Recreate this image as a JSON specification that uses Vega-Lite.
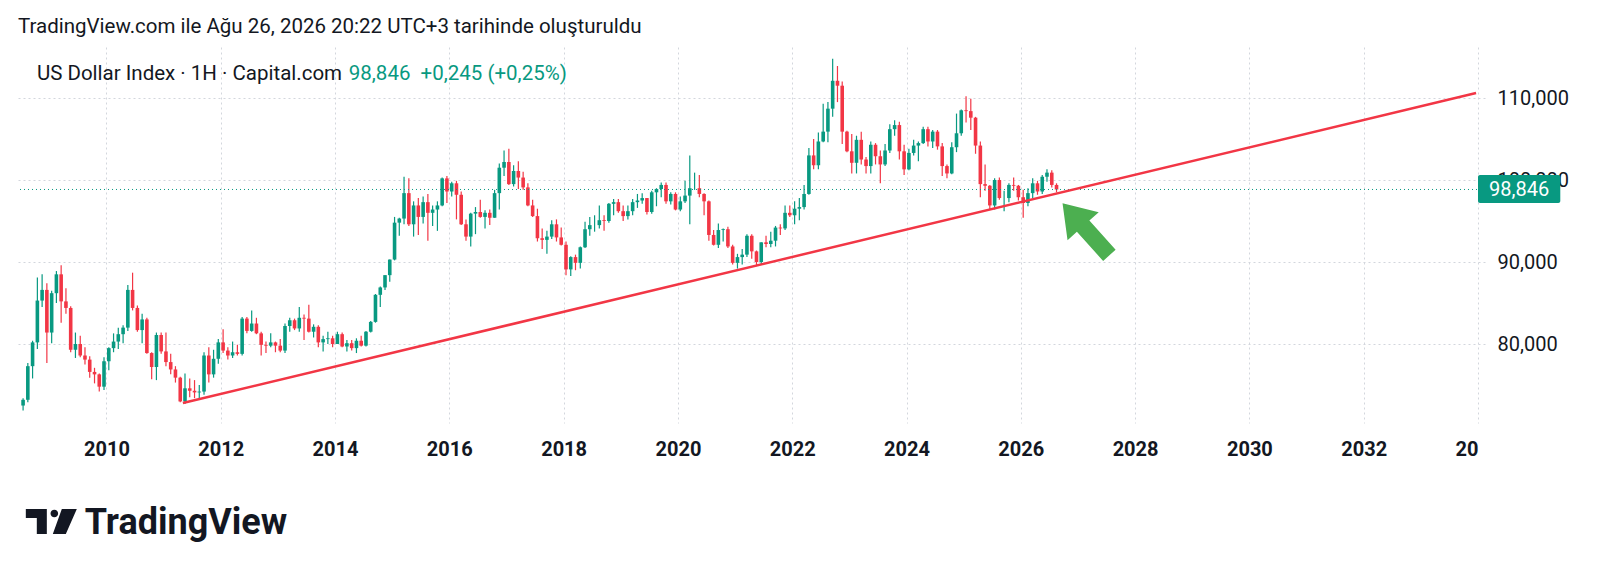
{
  "$schema": "https://vega.github.io/schema/vega-lite/v6.json",
  "width": 1468,
  "height": 376,
  "autosize": "none",
  "padding": {"left": 17, "top": 47, "right": 115, "bottom": 150},
  "background": "white",
  "config": {"view": {"stroke": null}, "font": "Roboto"},
  "title": {
    "text": "TradingView.com ile Ağu 26, 2026 20:22 UTC+3 tarihinde oluşturuldu",
    "anchor": "start",
    "frame": "group",
    "baseline": "alphabetic",
    "offset": 14,
    "dx": 1,
    "dy": 20,
    "font": "Roboto",
    "fontSize": 20.5,
    "fontWeight": "normal",
    "color": "#131722"
  },
  "datasets": {
    "candles": [
      {"t":2008.542,"o":72.5,"h":73.4,"l":71.9,"c":73.2},
      {"t":2008.625,"o":73.2,"h":77.7,"l":72.9,"c":77.3},
      {"t":2008.708,"o":77.3,"h":80.4,"l":75.8,"c":80.2},
      {"t":2008.792,"o":80.2,"h":88.1,"l":79.4,"c":85.3},
      {"t":2008.875,"o":85.3,"h":88.5,"l":84.5,"c":86.6},
      {"t":2008.958,"o":86.6,"h":87.4,"l":77.7,"c":81.4},
      {"t":2009.042,"o":81.4,"h":86.5,"l":80.1,"c":86.2},
      {"t":2009.125,"o":86.2,"h":88.9,"l":85.0,"c":88.5},
      {"t":2009.208,"o":88.5,"h":89.6,"l":82.6,"c":85.2},
      {"t":2009.292,"o":85.2,"h":86.8,"l":83.7,"c":84.4},
      {"t":2009.375,"o":84.4,"h":84.6,"l":79.0,"c":79.3},
      {"t":2009.458,"o":79.3,"h":81.4,"l":78.3,"c":80.0},
      {"t":2009.542,"o":80.0,"h":81.0,"l":78.4,"c":78.6},
      {"t":2009.625,"o":78.6,"h":79.6,"l":77.5,"c":78.1},
      {"t":2009.708,"o":78.1,"h":78.5,"l":75.9,"c":76.6},
      {"t":2009.792,"o":76.6,"h":77.1,"l":75.2,"c":76.3},
      {"t":2009.875,"o":76.3,"h":76.4,"l":74.2,"c":74.8},
      {"t":2009.958,"o":74.8,"h":78.4,"l":74.4,"c":77.9},
      {"t":2010.042,"o":77.9,"h":79.6,"l":76.8,"c":79.5},
      {"t":2010.125,"o":79.5,"h":81.3,"l":79.0,"c":80.3},
      {"t":2010.208,"o":80.3,"h":82.0,"l":79.4,"c":81.2},
      {"t":2010.292,"o":81.2,"h":82.3,"l":80.1,"c":82.0},
      {"t":2010.375,"o":82.0,"h":87.2,"l":81.6,"c":86.6},
      {"t":2010.458,"o":86.6,"h":88.7,"l":84.1,"c":84.4},
      {"t":2010.542,"o":84.4,"h":84.7,"l":81.5,"c":81.7},
      {"t":2010.625,"o":81.7,"h":83.7,"l":80.1,"c":83.0},
      {"t":2010.708,"o":83.0,"h":83.2,"l":78.8,"c":78.9},
      {"t":2010.792,"o":78.9,"h":79.0,"l":75.7,"c":77.2},
      {"t":2010.875,"o":77.2,"h":81.4,"l":75.6,"c":81.1},
      {"t":2010.958,"o":81.1,"h":81.4,"l":78.8,"c":79.1},
      {"t":2011.042,"o":79.1,"h":81.4,"l":77.3,"c":77.8},
      {"t":2011.125,"o":77.8,"h":78.8,"l":76.3,"c":76.9},
      {"t":2011.208,"o":76.9,"h":77.3,"l":75.3,"c":75.9},
      {"t":2011.292,"o":75.9,"h":76.0,"l":72.9,"c":73.0},
      {"t":2011.375,"o":73.0,"h":76.4,"l":72.7,"c":74.6},
      {"t":2011.458,"o":74.6,"h":75.8,"l":73.5,"c":74.3},
      {"t":2011.542,"o":74.3,"h":75.6,"l":73.4,"c":74.1},
      {"t":2011.625,"o":74.1,"h":75.0,"l":73.4,"c":74.2},
      {"t":2011.708,"o":74.2,"h":79.0,"l":73.8,"c":78.6},
      {"t":2011.792,"o":78.6,"h":79.6,"l":75.3,"c":76.3},
      {"t":2011.875,"o":76.3,"h":79.3,"l":75.9,"c":78.2},
      {"t":2011.958,"o":78.2,"h":80.6,"l":77.6,"c":80.2},
      {"t":2012.042,"o":80.2,"h":81.8,"l":78.9,"c":79.2},
      {"t":2012.125,"o":79.2,"h":79.6,"l":78.1,"c":78.6},
      {"t":2012.208,"o":78.6,"h":80.3,"l":78.3,"c":79.0},
      {"t":2012.292,"o":79.0,"h":79.9,"l":78.6,"c":78.8},
      {"t":2012.375,"o":78.8,"h":83.3,"l":78.6,"c":83.1},
      {"t":2012.458,"o":83.1,"h":83.3,"l":81.3,"c":81.6},
      {"t":2012.542,"o":81.6,"h":84.1,"l":81.5,"c":82.5},
      {"t":2012.625,"o":82.5,"h":83.2,"l":81.2,"c":81.3},
      {"t":2012.708,"o":81.3,"h":81.5,"l":78.6,"c":79.9},
      {"t":2012.792,"o":79.9,"h":80.3,"l":78.9,"c":79.8},
      {"t":2012.875,"o":79.8,"h":81.3,"l":79.6,"c":80.2},
      {"t":2012.958,"o":80.2,"h":80.3,"l":79.0,"c":79.8},
      {"t":2013.042,"o":79.8,"h":80.6,"l":79.0,"c":79.2},
      {"t":2013.125,"o":79.2,"h":82.5,"l":78.9,"c":82.2},
      {"t":2013.208,"o":82.2,"h":83.2,"l":81.5,"c":82.9},
      {"t":2013.292,"o":82.9,"h":83.1,"l":81.7,"c":81.9},
      {"t":2013.375,"o":81.9,"h":84.5,"l":81.5,"c":83.2},
      {"t":2013.458,"o":83.2,"h":83.6,"l":80.5,"c":83.1},
      {"t":2013.542,"o":83.1,"h":84.8,"l":81.4,"c":81.5},
      {"t":2013.625,"o":81.5,"h":82.4,"l":80.8,"c":82.1},
      {"t":2013.708,"o":82.1,"h":82.3,"l":79.6,"c":80.2},
      {"t":2013.792,"o":80.2,"h":81.0,"l":79.1,"c":80.6},
      {"t":2013.875,"o":80.6,"h":81.5,"l":80.0,"c":80.7},
      {"t":2013.958,"o":80.7,"h":81.0,"l":79.6,"c":80.0},
      {"t":2014.042,"o":80.0,"h":81.5,"l":80.0,"c":81.2},
      {"t":2014.125,"o":81.2,"h":81.4,"l":79.6,"c":79.7},
      {"t":2014.208,"o":79.7,"h":80.5,"l":79.1,"c":80.1},
      {"t":2014.292,"o":80.1,"h":80.5,"l":79.2,"c":79.5},
      {"t":2014.375,"o":79.5,"h":80.7,"l":78.9,"c":80.4},
      {"t":2014.458,"o":80.4,"h":81.0,"l":79.7,"c":79.8},
      {"t":2014.542,"o":79.8,"h":81.6,"l":79.7,"c":81.5},
      {"t":2014.625,"o":81.5,"h":82.8,"l":81.4,"c":82.7},
      {"t":2014.708,"o":82.7,"h":86.1,"l":82.6,"c":86.0},
      {"t":2014.792,"o":86.0,"h":87.0,"l":84.5,"c":86.9},
      {"t":2014.875,"o":86.9,"h":88.4,"l":86.6,"c":88.4},
      {"t":2014.958,"o":88.4,"h":90.3,"l":87.6,"c":90.3},
      {"t":2015.042,"o":90.3,"h":95.5,"l":90.2,"c":94.8},
      {"t":2015.125,"o":94.8,"h":95.4,"l":93.2,"c":95.3},
      {"t":2015.208,"o":95.3,"h":100.4,"l":94.6,"c":98.4},
      {"t":2015.292,"o":98.4,"h":100.2,"l":94.4,"c":94.6},
      {"t":2015.375,"o":94.6,"h":97.4,"l":93.1,"c":96.9},
      {"t":2015.458,"o":96.9,"h":97.8,"l":93.3,"c":95.5},
      {"t":2015.542,"o":95.5,"h":98.0,"l":94.7,"c":97.3},
      {"t":2015.625,"o":97.3,"h":98.3,"l":92.6,"c":96.0},
      {"t":2015.708,"o":96.0,"h":96.9,"l":94.4,"c":96.4},
      {"t":2015.792,"o":96.4,"h":97.4,"l":93.8,"c":96.9},
      {"t":2015.875,"o":96.9,"h":100.3,"l":96.8,"c":100.2},
      {"t":2015.958,"o":100.2,"h":100.5,"l":97.2,"c":98.6},
      {"t":2016.042,"o":98.6,"h":99.8,"l":98.0,"c":99.6},
      {"t":2016.125,"o":99.6,"h":99.9,"l":95.2,"c":98.2},
      {"t":2016.208,"o":98.2,"h":98.6,"l":94.5,"c":94.6},
      {"t":2016.292,"o":94.6,"h":95.2,"l":92.6,"c":93.1},
      {"t":2016.375,"o":93.1,"h":96.0,"l":91.9,"c":95.9},
      {"t":2016.458,"o":95.9,"h":96.7,"l":93.4,"c":96.1},
      {"t":2016.542,"o":96.1,"h":97.6,"l":95.4,"c":95.5},
      {"t":2016.625,"o":95.5,"h":96.3,"l":94.1,"c":96.0},
      {"t":2016.708,"o":96.0,"h":96.4,"l":94.5,"c":95.4},
      {"t":2016.792,"o":95.4,"h":98.8,"l":95.4,"c":98.4},
      {"t":2016.875,"o":98.4,"h":102.0,"l":96.4,"c":101.5},
      {"t":2016.958,"o":101.5,"h":103.6,"l":100.5,"c":102.2},
      {"t":2017.042,"o":102.2,"h":103.8,"l":99.4,"c":99.5},
      {"t":2017.125,"o":99.5,"h":101.8,"l":99.2,"c":101.1},
      {"t":2017.208,"o":101.1,"h":102.3,"l":98.9,"c":100.3},
      {"t":2017.292,"o":100.3,"h":101.0,"l":98.8,"c":99.1},
      {"t":2017.375,"o":99.1,"h":99.6,"l":96.8,"c":96.9},
      {"t":2017.458,"o":96.9,"h":97.6,"l":95.5,"c":95.6},
      {"t":2017.542,"o":95.6,"h":96.5,"l":92.5,"c":92.9},
      {"t":2017.625,"o":92.9,"h":94.1,"l":91.6,"c":92.7},
      {"t":2017.708,"o":92.7,"h":93.8,"l":91.0,"c":93.1},
      {"t":2017.792,"o":93.1,"h":95.1,"l":92.8,"c":94.6},
      {"t":2017.875,"o":94.6,"h":95.2,"l":92.5,"c":93.0},
      {"t":2017.958,"o":93.0,"h":94.2,"l":92.0,"c":92.1},
      {"t":2018.042,"o":92.1,"h":92.5,"l":88.4,"c":89.1},
      {"t":2018.125,"o":89.1,"h":90.7,"l":88.3,"c":90.6},
      {"t":2018.208,"o":90.6,"h":90.9,"l":89.0,"c":89.9},
      {"t":2018.292,"o":89.9,"h":91.9,"l":89.2,"c":91.8},
      {"t":2018.375,"o":91.8,"h":94.9,"l":91.7,"c":94.0},
      {"t":2018.458,"o":94.0,"h":95.5,"l":93.2,"c":94.5},
      {"t":2018.542,"o":94.5,"h":95.7,"l":93.7,"c":94.5},
      {"t":2018.625,"o":94.5,"h":96.9,"l":94.1,"c":95.1},
      {"t":2018.708,"o":95.1,"h":95.7,"l":93.8,"c":95.0},
      {"t":2018.792,"o":95.0,"h":97.2,"l":94.8,"c":97.1},
      {"t":2018.875,"o":97.1,"h":97.7,"l":95.7,"c":97.3},
      {"t":2018.958,"o":97.3,"h":97.7,"l":96.0,"c":96.2},
      {"t":2019.042,"o":96.2,"h":96.9,"l":95.0,"c":95.6},
      {"t":2019.125,"o":95.6,"h":96.9,"l":95.2,"c":96.2},
      {"t":2019.208,"o":96.2,"h":97.7,"l":95.7,"c":97.3},
      {"t":2019.292,"o":97.3,"h":98.3,"l":96.6,"c":97.5},
      {"t":2019.375,"o":97.5,"h":98.4,"l":97.1,"c":97.8},
      {"t":2019.458,"o":97.8,"h":97.8,"l":95.8,"c":96.1},
      {"t":2019.542,"o":96.1,"h":98.7,"l":95.9,"c":98.5},
      {"t":2019.625,"o":98.5,"h":99.0,"l":96.8,"c":98.9},
      {"t":2019.708,"o":98.9,"h":99.7,"l":97.9,"c":99.4},
      {"t":2019.792,"o":99.4,"h":99.7,"l":97.1,"c":97.4},
      {"t":2019.875,"o":97.4,"h":98.5,"l":97.0,"c":98.3},
      {"t":2019.958,"o":98.3,"h":98.5,"l":96.3,"c":96.4},
      {"t":2020.042,"o":96.4,"h":98.0,"l":96.2,"c":97.4},
      {"t":2020.125,"o":97.4,"h":99.9,"l":97.2,"c":98.1},
      {"t":2020.208,"o":98.1,"h":103.0,"l":94.6,"c":99.0},
      {"t":2020.292,"o":99.0,"h":100.9,"l":98.8,"c":99.0},
      {"t":2020.375,"o":99.0,"h":100.6,"l":97.9,"c":98.3},
      {"t":2020.458,"o":98.3,"h":98.4,"l":95.7,"c":97.4},
      {"t":2020.542,"o":97.4,"h":97.5,"l":92.6,"c":93.3},
      {"t":2020.625,"o":93.3,"h":93.9,"l":92.0,"c":92.1},
      {"t":2020.708,"o":92.1,"h":94.7,"l":91.7,"c":93.9},
      {"t":2020.792,"o":93.9,"h":94.1,"l":92.5,"c":94.0},
      {"t":2020.875,"o":94.0,"h":94.3,"l":91.7,"c":91.9},
      {"t":2020.958,"o":91.9,"h":92.1,"l":89.7,"c":89.9},
      {"t":2021.042,"o":89.9,"h":91.0,"l":89.2,"c":90.6},
      {"t":2021.125,"o":90.6,"h":91.6,"l":89.7,"c":90.9},
      {"t":2021.208,"o":90.9,"h":93.4,"l":90.6,"c":93.2},
      {"t":2021.292,"o":93.2,"h":93.4,"l":90.4,"c":91.3},
      {"t":2021.375,"o":91.3,"h":91.4,"l":89.5,"c":90.0},
      {"t":2021.458,"o":90.0,"h":92.4,"l":89.7,"c":92.4},
      {"t":2021.542,"o":92.4,"h":93.2,"l":91.8,"c":92.2},
      {"t":2021.625,"o":92.2,"h":93.7,"l":91.8,"c":92.6},
      {"t":2021.708,"o":92.6,"h":94.4,"l":91.9,"c":94.2},
      {"t":2021.792,"o":94.2,"h":94.6,"l":93.3,"c":94.1},
      {"t":2021.875,"o":94.1,"h":96.9,"l":93.9,"c":96.0},
      {"t":2021.958,"o":96.0,"h":96.9,"l":95.5,"c":95.7},
      {"t":2022.042,"o":95.7,"h":97.4,"l":94.6,"c":96.5},
      {"t":2022.125,"o":96.5,"h":97.8,"l":95.1,"c":96.7},
      {"t":2022.208,"o":96.7,"h":99.4,"l":96.4,"c":98.3},
      {"t":2022.292,"o":98.3,"h":103.9,"l":98.2,"c":103.0},
      {"t":2022.375,"o":103.0,"h":105.0,"l":101.3,"c":101.8},
      {"t":2022.458,"o":101.8,"h":105.8,"l":101.3,"c":104.7},
      {"t":2022.542,"o":104.7,"h":109.3,"l":104.6,"c":105.9},
      {"t":2022.625,"o":105.9,"h":109.5,"l":104.6,"c":108.7},
      {"t":2022.708,"o":108.7,"h":114.8,"l":107.7,"c":112.1},
      {"t":2022.792,"o":112.1,"h":113.9,"l":109.5,"c":111.5},
      {"t":2022.875,"o":111.5,"h":112.0,"l":104.4,"c":105.9},
      {"t":2022.958,"o":105.9,"h":106.0,"l":103.4,"c":103.5},
      {"t":2023.042,"o":103.5,"h":105.6,"l":100.8,"c":102.1},
      {"t":2023.125,"o":102.1,"h":105.4,"l":100.8,"c":104.9},
      {"t":2023.208,"o":104.9,"h":105.9,"l":101.9,"c":102.5},
      {"t":2023.292,"o":102.5,"h":102.8,"l":100.8,"c":101.7},
      {"t":2023.375,"o":101.7,"h":104.7,"l":100.8,"c":104.3},
      {"t":2023.458,"o":104.3,"h":104.5,"l":101.9,"c":102.9},
      {"t":2023.542,"o":102.9,"h":103.6,"l":99.6,"c":101.9},
      {"t":2023.625,"o":101.9,"h":104.4,"l":101.7,"c":103.6},
      {"t":2023.708,"o":103.6,"h":106.8,"l":103.3,"c":106.2},
      {"t":2023.792,"o":106.2,"h":107.3,"l":105.4,"c":106.7},
      {"t":2023.875,"o":106.7,"h":107.1,"l":102.5,"c":103.5},
      {"t":2023.958,"o":103.5,"h":104.3,"l":100.6,"c":101.3},
      {"t":2024.042,"o":101.3,"h":103.8,"l":101.2,"c":103.3},
      {"t":2024.125,"o":103.3,"h":104.9,"l":103.0,"c":104.2},
      {"t":2024.208,"o":104.2,"h":104.7,"l":102.3,"c":104.5},
      {"t":2024.292,"o":104.5,"h":106.5,"l":104.4,"c":106.2},
      {"t":2024.375,"o":106.2,"h":106.5,"l":104.1,"c":104.7},
      {"t":2024.458,"o":104.7,"h":106.1,"l":103.9,"c":105.9},
      {"t":2024.542,"o":105.9,"h":106.1,"l":103.7,"c":104.1},
      {"t":2024.625,"o":104.1,"h":104.5,"l":100.5,"c":101.7},
      {"t":2024.708,"o":101.7,"h":101.9,"l":100.2,"c":100.8},
      {"t":2024.792,"o":100.8,"h":104.6,"l":100.7,"c":104.0},
      {"t":2024.875,"o":104.0,"h":108.1,"l":103.4,"c":105.7},
      {"t":2024.958,"o":105.7,"h":108.6,"l":105.4,"c":108.5},
      {"t":2025.042,"o":108.5,"h":110.2,"l":107.0,"c":108.4},
      {"t":2025.125,"o":108.4,"h":109.9,"l":106.1,"c":107.6},
      {"t":2025.208,"o":107.6,"h":107.7,"l":103.2,"c":104.2},
      {"t":2025.292,"o":104.2,"h":104.7,"l":97.9,"c":99.5},
      {"t":2025.375,"o":99.5,"h":101.9,"l":98.7,"c":99.3},
      {"t":2025.458,"o":99.3,"h":99.4,"l":96.4,"c":96.9},
      {"t":2025.542,"o":96.9,"h":100.2,"l":96.4,"c":100.0},
      {"t":2025.625,"o":100.0,"h":100.3,"l":97.6,"c":97.8},
      {"t":2025.708,"o":97.8,"h":98.7,"l":96.2,"c":97.8},
      {"t":2025.792,"o":97.8,"h":99.6,"l":97.3,"c":99.4},
      {"t":2025.875,"o":99.4,"h":100.3,"l":98.7,"c":99.3},
      {"t":2025.958,"o":99.3,"h":99.4,"l":97.5,"c":97.9},
      {"t":2026.042,"o":97.9,"h":98.8,"l":95.4,"c":97.2},
      {"t":2026.125,"o":97.2,"h":99.0,"l":96.8,"c":98.4},
      {"t":2026.208,"o":98.4,"h":100.2,"l":97.8,"c":99.6},
      {"t":2026.292,"o":99.6,"h":99.9,"l":98.2,"c":98.6},
      {"t":2026.375,"o":98.6,"h":100.6,"l":98.3,"c":100.4},
      {"t":2026.458,"o":100.4,"h":101.3,"l":99.8,"c":100.9},
      {"t":2026.542,"o":100.9,"h":101.2,"l":99.1,"c":99.4},
      {"t":2026.625,"o":99.4,"h":99.6,"l":98.5,"c":98.846}
    ],
    "trend": [
      {"t": 2011.338, "v": 72.8},
      {"t": 2033.966, "v": 110.61}
    ]
  },
  "layer": [
    {
      "data": {"name": "candles"},
      "mark": {"type": "rule", "strokeWidth": 1.2},
      "encoding": {
        "x": {
          "field": "t", "type": "quantitative", "title": null,
          "scale": {"domain": [2008.523, 2034.035], "nice": false, "zero": false},
          "axis": {
            "title": null, "orient": "bottom", "zindex": 0,
            "values": [2010, 2012, 2014, 2016, 2018, 2020, 2022, 2024, 2026, 2028, 2030, 2032, 2034],
            "labelExpr": "datum.value == 2034 ? '20' : format(datum.value, 'd')",
            "labelAlign": {"condition": {"test": "datum.value == 2034", "value": "right"}, "value": "center"},
            "labelFont": "Roboto", "labelFontSize": 20, "labelFontWeight": "bold", "labelColor": "#131722",
            "labelPadding": 16, "labelBound": false, "labelOverlap": false, "labelFlush": false,
            "domain": false, "ticks": false,
            "grid": true, "gridColor": "#d3d6dd", "gridDash": [2, 3], "gridWidth": 1
          }
        },
        "y": {
          "field": "l", "type": "quantitative", "title": null,
          "scale": {"domain": [70.37, 116.22], "nice": false, "zero": false},
          "axis": {
            "title": null, "orient": "right", "zindex": 0,
            "values": [80, 90, 100, 110],
            "labelExpr": "replace(format(datum.value, '.3f'), '.', ',')",
            "labelFont": "Roboto", "labelFontSize": 20, "labelColor": "#131722",
            "labelPadding": 12, "labelBaseline": "middle",
            "domain": false, "ticks": false,
            "grid": true, "gridColor": "#d3d6dd", "gridDash": [2, 3], "gridWidth": 1
          }
        },
        "y2": {"field": "h"},
        "color": {"condition": {"test": "datum.c >= datum.o", "value": "#089981"}, "value": "#f23645"}
      }
    },
    {
      "data": {"name": "candles"},
      "mark": {"type": "bar", "size": 3.6},
      "encoding": {
        "x": {"field": "t", "type": "quantitative", "title": null, "scale": {"domain": [2008.523, 2034.035], "nice": false, "zero": false}},
        "y": {"field": "o", "type": "quantitative", "title": null, "scale": {"domain": [70.37, 116.22], "nice": false, "zero": false}},
        "y2": {"field": "c"},
        "color": {"condition": {"test": "datum.c >= datum.o", "value": "#089981"}, "value": "#f23645"}
      }
    },
    {
      "data": {"values": [{"v": 98.846}]},
      "mark": {"type": "rule", "stroke": "#089981", "strokeWidth": 1, "strokeDash": [1, 3]},
      "encoding": {
        "y": {"field": "v", "type": "quantitative", "title": null, "scale": {"domain": [70.37, 116.22], "nice": false, "zero": false}}
      }
    },
    {
      "data": {"name": "trend"},
      "mark": {"type": "line", "color": "#f23645", "strokeWidth": 2.5},
      "encoding": {
        "x": {"field": "t", "type": "quantitative", "title": null, "scale": {"domain": [2008.523, 2034.035], "nice": false, "zero": false}},
        "y": {"field": "v", "type": "quantitative", "title": null, "scale": {"domain": [70.37, 116.22], "nice": false, "zero": false}}
      }
    },
    {
      "data": {"values": [{"t": 2027.14, "v": 93.99}]},
      "mark": {
        "type": "point", "filled": true, "opacity": 1, "color": "#4caf50", "size": 4900, "angle": 318,
        "shape": "M0,-1L0.6,-0.12L0.24,-0.12L0.24,1L-0.24,1L-0.24,-0.12L-0.6,-0.12Z"
      },
      "encoding": {
        "x": {"field": "t", "type": "quantitative", "title": null, "scale": {"domain": [2008.523, 2034.035], "nice": false, "zero": false}},
        "y": {"field": "v", "type": "quantitative", "title": null, "scale": {"domain": [70.37, 116.22], "nice": false, "zero": false}}
      }
    },
    {
      "data": {"values": [{"t": 2008.784, "v": 112.2, "label": "US Dollar Index · 1H · Capital.com"}]},
      "mark": {"type": "text", "align": "left", "baseline": "alphabetic", "font": "Roboto", "fontSize": 20.5, "color": "#131722"},
      "encoding": {
        "x": {"field": "t", "type": "quantitative", "title": null, "scale": {"domain": [2008.523, 2034.035], "nice": false, "zero": false}},
        "y": {"field": "v", "type": "quantitative", "title": null, "scale": {"domain": [70.37, 116.22], "nice": false, "zero": false}},
        "text": {"field": "label"}
      }
    },
    {
      "data": {"values": [{"t": 2014.241, "v": 112.2, "label": "98,846\u00a0 +0,245 (+0,25%)"}]},
      "mark": {"type": "text", "align": "left", "baseline": "alphabetic", "font": "Roboto", "fontSize": 20.5, "color": "#089981"},
      "encoding": {
        "x": {"field": "t", "type": "quantitative", "title": null, "scale": {"domain": [2008.523, 2034.035], "nice": false, "zero": false}},
        "y": {"field": "v", "type": "quantitative", "title": null, "scale": {"domain": [70.37, 116.22], "nice": false, "zero": false}},
        "text": {"field": "label"}
      }
    },
    {
      "data": {"values": [{"t1": 2034.0, "t2": 2035.44, "v1": 97.2, "v2": 100.61}]},
      "mark": {"type": "rect", "color": "#089981", "cornerRadius": 2},
      "encoding": {
        "x": {"field": "t1", "type": "quantitative", "title": null, "scale": {"domain": [2008.523, 2034.035], "nice": false, "zero": false}},
        "x2": {"field": "t2"},
        "y": {"field": "v1", "type": "quantitative", "title": null, "scale": {"domain": [70.37, 116.22], "nice": false, "zero": false}},
        "y2": {"field": "v2"}
      }
    },
    {
      "data": {"values": [{"t": 2034.72, "v": 98.05, "label": "98,846"}]},
      "mark": {"type": "text", "align": "center", "baseline": "alphabetic", "font": "Roboto", "fontSize": 20, "color": "white"},
      "encoding": {
        "x": {"field": "t", "type": "quantitative", "title": null, "scale": {"domain": [2008.523, 2034.035], "nice": false, "zero": false}},
        "y": {"field": "v", "type": "quantitative", "title": null, "scale": {"domain": [70.37, 116.22], "nice": false, "zero": false}},
        "text": {"field": "label"}
      }
    },
    {
      "data": {"values": [{"t": 2009.036, "v": 58.35}]},
      "mark": {
        "type": "point", "filled": true, "opacity": 1, "color": "#131722", "size": 2601,
        "shape": "M-1,-0.49L-0.176,-0.49L-0.176,0.49L-0.569,0.49L-0.569,-0.137L-1,-0.137Z M-0.031,-0.314A0.149,0.149 0 1 0 0.267,-0.314A0.149,0.149 0 1 0 -0.031,-0.314Z M0.412,-0.49L1,-0.49L0.569,0.49L0.059,0.49Z"
      },
      "encoding": {
        "x": {"field": "t", "type": "quantitative", "title": null, "scale": {"domain": [2008.523, 2034.035], "nice": false, "zero": false}},
        "y": {"field": "v", "type": "quantitative", "title": null, "scale": {"domain": [70.37, 116.22], "nice": false, "zero": false}}
      }
    },
    {
      "data": {"values": [{"t": 2009.62, "v": 56.83, "label": "TradingView"}]},
      "mark": {"type": "text", "align": "left", "baseline": "alphabetic", "font": "Roboto", "fontSize": 36, "fontWeight": "bold", "color": "#131722"},
      "encoding": {
        "x": {"field": "t", "type": "quantitative", "title": null, "scale": {"domain": [2008.523, 2034.035], "nice": false, "zero": false}},
        "y": {"field": "v", "type": "quantitative", "title": null, "scale": {"domain": [70.37, 116.22], "nice": false, "zero": false}},
        "text": {"field": "label"}
      }
    }
  ]
}
